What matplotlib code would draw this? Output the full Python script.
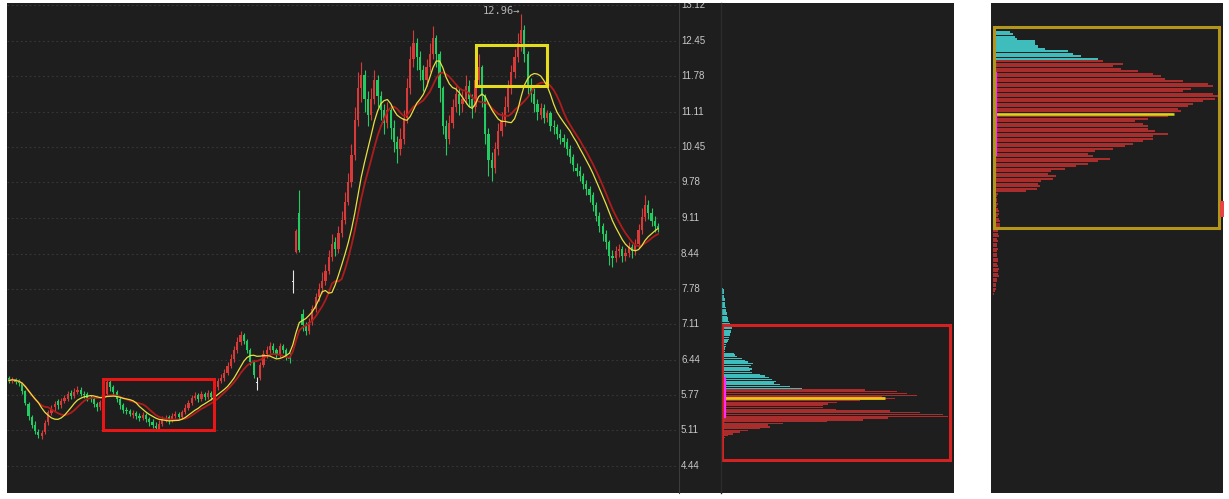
import numpy as np
import pandas as pd
import matplotlib
matplotlib.use("Agg")
import matplotlib.pyplot as plt
from matplotlib.patches import Rectangle
from matplotlib.lines import Line2D

# ------------------------------------------------------------------ data
opens = [
    6.10, 6.04, 6.08, 6.03, 6.00, 5.86, 5.60, 5.36, 5.22, 5.08,
    5.00, 5.08, 5.26, 5.44, 5.55, 5.66, 5.58, 5.66, 5.70, 5.82,
    5.76, 5.84, 5.88, 5.80, 5.80, 5.72, 5.70, 5.60, 5.55, 5.64,
    5.80, 6.02, 5.92, 5.84, 5.70, 5.58, 5.50, 5.48, 5.40, 5.44,
    5.38, 5.34, 5.40, 5.32, 5.26, 5.20, 5.14, 5.24, 5.32, 5.36,
    5.30, 5.38, 5.42, 5.36, 5.46, 5.54, 5.62, 5.72, 5.78, 5.70,
    5.80, 5.74, 5.82, 5.74, 5.92, 6.04, 6.10, 6.20, 6.32, 6.46,
    6.62, 6.78, 6.90, 6.80, 6.62, 6.40, 6.00, 6.10, 6.35, 6.55,
    6.62, 6.70, 6.62, 6.55, 6.70, 6.62, 6.50, 7.90, 8.47, 9.20,
    7.30, 7.10, 6.98, 7.15, 7.40, 7.62, 7.80, 7.92, 8.12, 8.38,
    8.66, 8.52, 8.82, 9.08, 9.42, 9.78, 10.30, 10.95, 11.55, 11.80,
    11.35, 11.05, 11.35, 11.70, 11.40, 11.15, 10.90, 11.15, 10.80, 10.55,
    10.40, 10.60, 11.00, 11.55, 12.10, 12.40, 12.15, 11.90, 11.70, 11.95,
    12.20, 12.50, 12.20, 11.55, 10.85, 10.60, 10.90, 11.20, 11.45, 11.25,
    11.35, 11.60, 11.35, 11.20, 11.70, 11.95, 11.40, 10.70, 10.20, 10.05,
    10.40, 10.75, 10.95, 11.20, 11.55, 11.85, 12.15, 12.40, 12.65, 12.20,
    11.60, 11.45, 11.25, 11.05, 11.18, 11.00, 11.08, 10.85, 10.82, 10.70,
    10.62, 10.55, 10.40, 10.25, 10.05, 10.00, 9.90, 9.75, 9.66, 9.55,
    9.35, 9.15, 8.95, 8.80, 8.65, 8.40, 8.35, 8.48, 8.52, 8.40,
    8.46, 8.56, 8.48, 8.62, 8.88, 9.12, 9.35, 9.20, 9.05, 8.95,
]
closes = [
    6.05, 6.08, 6.02, 6.00, 5.85, 5.62, 5.38, 5.22, 5.10, 5.02,
    5.06, 5.25, 5.45, 5.52, 5.60, 5.58, 5.66, 5.72, 5.80, 5.76,
    5.84, 5.88, 5.80, 5.78, 5.72, 5.70, 5.60, 5.55, 5.64, 5.80,
    6.02, 5.92, 5.84, 5.70, 5.58, 5.50, 5.48, 5.42, 5.44, 5.38,
    5.34, 5.40, 5.32, 5.26, 5.22, 5.16, 5.24, 5.32, 5.34, 5.30,
    5.38, 5.42, 5.36, 5.46, 5.54, 5.62, 5.72, 5.76, 5.70, 5.80,
    5.74, 5.82, 5.74, 5.92, 6.04, 6.10, 6.20, 6.32, 6.46, 6.62,
    6.78, 6.90, 6.80, 6.62, 6.40, 6.16, 6.00, 6.35, 6.55, 6.62,
    6.70, 6.62, 6.55, 6.70, 6.62, 6.50, 6.45, 7.90, 8.87, 8.50,
    7.10, 6.98, 7.15, 7.40, 7.62, 7.78, 7.92, 8.12, 8.38, 8.62,
    8.52, 8.82, 9.08, 9.42, 9.78, 10.30, 10.95, 11.55, 11.80, 11.35,
    11.05, 11.35, 11.70, 11.40, 11.15, 10.90, 11.15, 10.80, 10.55, 10.40,
    10.60, 11.00, 11.55, 12.10, 12.40, 12.15, 11.90, 11.70, 11.95, 12.20,
    12.50, 12.20, 11.55, 10.85, 10.60, 10.90, 11.20, 11.45, 11.25, 11.35,
    11.60, 11.35, 11.20, 11.70, 11.95, 11.40, 10.70, 10.20, 10.05, 10.40,
    10.75, 10.95, 11.20, 11.55, 11.85, 12.15, 12.40, 12.65, 12.20, 11.60,
    11.45, 11.25, 11.10, 11.18, 11.00, 11.08, 10.85, 10.82, 10.70, 10.62,
    10.55, 10.40, 10.25, 10.10, 10.00, 9.90, 9.75, 9.66, 9.55, 9.35,
    9.15, 8.95, 8.80, 8.65, 8.40, 8.35, 8.48, 8.52, 8.40, 8.46,
    8.56, 8.48, 8.62, 8.88, 9.12, 9.35, 9.20, 9.05, 8.95, 8.92,
]
highs = [
    6.14, 6.12, 6.10, 6.08, 6.02, 5.88, 5.64, 5.40, 5.28, 5.14,
    5.12, 5.30, 5.50, 5.58, 5.66, 5.70, 5.72, 5.78, 5.86, 5.88,
    5.90, 5.94, 5.92, 5.86, 5.84, 5.78, 5.74, 5.64, 5.68, 5.84,
    6.10, 6.06, 5.96, 5.88, 5.74, 5.62, 5.56, 5.52, 5.50, 5.48,
    5.44, 5.46, 5.44, 5.36, 5.32, 5.26, 5.30, 5.38, 5.40, 5.40,
    5.44, 5.48, 5.46, 5.50, 5.60, 5.68, 5.78, 5.84, 5.82, 5.86,
    5.84, 5.88, 5.86, 5.96, 6.10, 6.18, 6.26, 6.40, 6.54, 6.70,
    6.86, 6.98, 6.94, 6.84, 6.66, 6.44, 6.12, 6.40, 6.62, 6.70,
    6.78, 6.76, 6.66, 6.76, 6.74, 6.66, 6.56, 8.13, 8.90, 9.64,
    7.40, 7.16, 7.22, 7.48, 7.70, 7.88, 8.10, 8.25, 8.50, 8.80,
    8.75, 8.95, 9.25, 9.60, 9.95, 10.50, 11.20, 11.85, 12.05, 11.90,
    11.50, 11.55, 11.90, 11.80, 11.50, 11.25, 11.30, 11.25, 10.95, 10.65,
    10.80, 11.15, 11.75, 12.35, 12.65, 12.50, 12.25, 12.00, 12.10, 12.40,
    12.72, 12.55, 12.25, 11.60, 10.95, 11.05, 11.35, 11.60, 11.55, 11.50,
    11.80, 11.70, 11.45, 11.90, 12.20, 12.00, 11.45, 10.80, 10.35, 10.55,
    10.90, 11.10, 11.40, 11.70, 12.00, 12.30, 12.60, 12.96, 12.75, 12.25,
    11.75, 11.55, 11.35, 11.28, 11.25, 11.15, 11.12, 10.95, 10.88, 10.78,
    10.70, 10.62, 10.48, 10.32, 10.15, 10.08, 9.96, 9.82, 9.72, 9.60,
    9.42, 9.22, 9.02, 8.88, 8.70, 8.50, 8.58, 8.62, 8.58, 8.55,
    8.66, 8.62, 8.72, 9.00, 9.30, 9.55, 9.45, 9.30, 9.15, 9.02,
]
lows = [
    6.00, 6.00, 5.98, 5.94, 5.80, 5.58, 5.30, 5.15, 5.04, 4.96,
    4.94, 5.04, 5.22, 5.40, 5.48, 5.52, 5.54, 5.62, 5.66, 5.70,
    5.72, 5.80, 5.76, 5.72, 5.66, 5.64, 5.56, 5.48, 5.50, 5.60,
    5.76, 5.86, 5.78, 5.64, 5.52, 5.44, 5.42, 5.38, 5.34, 5.32,
    5.28, 5.30, 5.26, 5.20, 5.16, 5.10, 5.10, 5.20, 5.26, 5.24,
    5.26, 5.34, 5.30, 5.32, 5.42, 5.50, 5.58, 5.68, 5.64, 5.66,
    5.68, 5.70, 5.68, 5.70, 5.88, 6.00, 6.04, 6.16, 6.28, 6.40,
    6.56, 6.72, 6.74, 6.56, 6.34, 6.10, 5.88, 6.06, 6.30, 6.48,
    6.56, 6.56, 6.48, 6.50, 6.56, 6.44, 6.38, 7.70, 8.45, 8.47,
    6.98, 6.90, 6.92, 7.10, 7.34, 7.54, 7.70, 7.85, 8.05, 8.30,
    8.40, 8.45, 8.76, 9.00, 9.35, 9.70, 10.20, 10.85, 11.30, 11.10,
    10.85, 10.95, 11.25, 11.20, 10.95, 10.70, 10.80, 10.60, 10.35, 10.15,
    10.30, 10.50, 10.90, 11.45, 11.95, 11.90, 11.70, 11.50, 11.60, 11.85,
    12.10, 11.95, 11.30, 10.70, 10.30, 10.50, 10.80, 11.10, 11.05, 11.10,
    11.25, 11.20, 11.00, 11.10, 11.60, 11.20, 10.50, 9.90, 9.80, 9.95,
    10.30, 10.65, 10.85, 11.10, 11.45, 11.75, 12.05, 12.25, 12.05, 11.45,
    11.30, 11.10, 10.95, 10.98, 10.90, 10.92, 10.75, 10.70, 10.60, 10.50,
    10.45, 10.30, 10.15, 10.00, 9.90, 9.80, 9.65, 9.55, 9.42, 9.25,
    9.05, 8.85, 8.68, 8.52, 8.22, 8.18, 8.28, 8.38, 8.28, 8.30,
    8.38, 8.36, 8.42, 8.55, 8.80, 9.05, 9.10, 8.95, 8.85, 8.85,
]

price_ticks = [13.12, 12.45, 11.78, 11.11, 10.45, 9.78, 9.11, 8.44,
               7.78, 7.11, 6.44, 5.77, 5.11, 4.44]
ma_fast, ma_slow = 10, 13

# chip distribution at the red-box date (middle panel)
mid_red_base, mid_cyan_base, mid_step = 4.98, 5.904, 0.033
mid_red_len = [3, 6, 11, 18, 26, 38, 48, 46, 61, 105, 141, 166, 226, 221,
               198, 168, 114, 101, 101, 106, 115, 138, 173, 160, 195, 185,
               175, 143]
mid_cyan_len = [80, 68, 58, 52, 54, 50, 47, 43, 38, 30, 28, 30, 27, 29, 31,
                26, 23, 20, 15, 13, 12, 3, 3, 3, 4, 4, 5, 6, 7, 7, 8, 8, 9,
                9, 10, 10, 9, 8, 7, 6, 6, 5, 5, 5, 4, 4, 4, 3, 3, 3, 3, 3,
                2, 2, 2, 2, 2, 1]
mid_peak_price, mid_peak_len = 5.725, 163
mid_avg_band = (5.36, 6.095)
mid_wide_band = (5.25, 6.77)

# chip distribution at the yellow-box date (right panel), listed top-down
right_top, right_step = 12.668, 0.047
right_n_cyan = 13
right_len = [2, 17, 20, 22, 24, 42, 42, 45, 52, 75, 80, 88, 105,
             110, 130, 120, 128, 145, 160, 168, 172, 190, 215, 220, 198,
             190, 220, 228, 222, 210, 200, 195, 185, 188, 180, 175, 155,
             142, 150, 155, 155, 162, 175, 160, 160, 150, 140, 132, 120,
             102, 95, 100, 117, 105, 95, 83, 72, 58, 55, 63, 60, 48, 45,
             47, 44, 33, 5, 4, 4, 4, 5, 4, 5, 6, 6, 5, 6, 7, 7, 7, 6, 5,
             5, 6, 4, 5, 4, 4, 5, 4, 4, 4, 5, 5, 4, 5, 6, 5, 5, 6, 4, 4,
             3, 3, 3, 2, 1]
right_peak_price, right_peak_len = 11.067, 181
right_avg_band = (10.295, 11.839)
right_wide_band = (9.862, 12.216)

# highlight boxes (candle index range, price range)
red_box = (28.9, 63.0, 5.112, 6.080)
yellow_box = (143.1, 164.9, 11.598, 12.370)
mid_box = (2.5, 230.5, 4.561, 7.103)
right_box = (2.5, 227.5, 8.928, 12.715)
right_marker = (229.0, 232.5, 9.128, 9.429)

# ------------------------------------------------------------------ style
BG = '#1e1e1e'
UP, DOWN, FLAT = '#d83a3a', '#22cc60', '#e6e6e6'
CYAN, CHIP_RED = '#3fbcbc', '#a82e2e'
YLIM = (3.932, 13.158)

W, H = 1229, 499
fig = plt.figure(figsize=(W / 100, H / 100), dpi=100, facecolor='white')


def pax(x0, y0, x1, y1, fc='none'):
    a = fig.add_axes([x0 / W, 1 - y1 / H, (x1 - x0) / W, (y1 - y0) / H])
    a.set_facecolor(fc)
    a.set_xticks([])
    a.set_yticks([])
    for s in a.spines.values():
        s.set_visible(False)
    return a


pax(7, 3, 954, 493, BG)
pax(991, 3, 1223, 493, BG)

# ---------------------------------------------------------- candle panel
ax = pax(7, 3, 678, 493)
n = len(closes)
x = np.arange(n)
o, c, h, l = map(np.asarray, (opens, closes, highs, lows))
cols = np.where(c > o, UP, np.where(c < o, DOWN, FLAT))
for t in price_ticks:
    ax.axhline(t, color='#383838', lw=0.8, ls=(0, (1.5, 2.5)), zorder=0)
ax.vlines(x, l, h, colors=cols, lw=0.8, zorder=2)
body = np.maximum(np.abs(c - o), 0.018)
ax.bar(x, body, bottom=np.minimum(o, c), width=0.68, color=cols,
       linewidth=0, zorder=3)
cs = pd.Series(closes)
ax.plot(x, cs.rolling(ma_slow, min_periods=1).mean(), color='#b01c1c',
        lw=1.3, zorder=4)
ax.plot(x, cs.rolling(ma_fast, min_periods=1).mean(), color='#e8e040',
        lw=0.9, zorder=5)
ax.set_xlim(-0.613, 205.1)
ax.set_ylim(*YLIM)

imax = int(np.argmax(h))
ax.text(imax - 0.2, h[imax] + 0.04, f"{h[imax]:.2f}\u2192", ha='right',
        va='center', color='#b4b4b4', fontsize=7.5,
        family='DejaVu Sans Mono', zorder=6)

for (x0, x1, y0, y1), col in ((red_box, '#e81616'), (yellow_box, '#e4dc1c')):
    ax.add_patch(Rectangle((x0, y0), x1 - x0, y1 - y0, fill=False,
                           ec=col, lw=2.2, zorder=7))

# ---------------------------------------------------------- price labels
lab = pax(678, 3, 720, 493)
lab.set_ylim(*YLIM)
lab.set_xlim(0, 42)
for t in price_ticks:
    lab.text(3, t, f"{t:.2f}", ha='left', va='center', color='#c8c8c8',
             fontsize=7, family='Liberation Sans', clip_on=True)

fig.add_artist(Line2D([678.5 / W] * 2, [1 - 493 / H, 1 - 3 / H],
                      transform=fig.transFigure, color='#3c3c3c', lw=0.8))
fig.add_artist(Line2D([720.5 / W] * 2, [1 - 493 / H, 1 - 3 / H],
                      transform=fig.transFigure, color='#2c2c2c', lw=1.0))

# ---------------------------------------------------------- middle chips
mid = pax(720, 3, 954, 493)
mid.set_xlim(0, 234)
mid.set_ylim(*YLIM)
mr_lv = mid_red_base + mid_step * np.arange(len(mid_red_len))
mc_lv = mid_cyan_base + mid_step * np.arange(len(mid_cyan_len))
mid.barh(mr_lv, mid_red_len, left=2, height=0.026, color=CHIP_RED, lw=0)
mid.barh(mc_lv, mid_cyan_len, left=2, height=0.026, color=CYAN, lw=0)
mid.plot([2, 2 + mid_peak_len], [mid_peak_price] * 2, color='#f0c414',
         lw=2.0, solid_capstyle='butt')
mid.plot([3.2, 3.2], mid_wide_band, color='#dddddd', lw=0.8)
mid.plot([4.6, 4.6], mid_avg_band, color='#ff2cff', lw=1.6)
x0, x1, y0, y1 = mid_box
mid.add_patch(Rectangle((x0, y0), x1 - x0, y1 - y0, fill=False,
                        ec='#d42222', lw=2.2, zorder=7))

# ---------------------------------------------------------- right chips
rp = pax(991, 3, 1223, 493)
rp.set_xlim(0, 232)
rp.set_ylim(*YLIM)
r_lv = right_top - right_step * np.arange(len(right_len))
r_col = [CYAN if k < right_n_cyan else CHIP_RED for k in range(len(right_len))]
rp.barh(r_lv, right_len, left=2, height=0.038, color=r_col, lw=0)
rp.plot([2, 2 + right_peak_len], [right_peak_price] * 2, color='#dcd414',
        lw=1.8, solid_capstyle='butt')
rp.plot([3.5, 3.5], right_wide_band, color='#dddddd', lw=0.8)
rp.plot([5.2, 5.2], right_avg_band, color='#ff2cff', lw=1.6)
x0, x1, y0, y1 = right_box
rp.add_patch(Rectangle((x0, y0), x1 - x0, y1 - y0, fill=False,
                       ec='#b4951c', lw=2.2, zorder=7))
x0, x1, y0, y1 = right_marker
rp.add_patch(Rectangle((x0, y0), x1 - x0, y1 - y0, fc='#e84444', lw=0,
                       clip_on=False, zorder=8))

fig.savefig('out.png', dpi=100, facecolor='white')
